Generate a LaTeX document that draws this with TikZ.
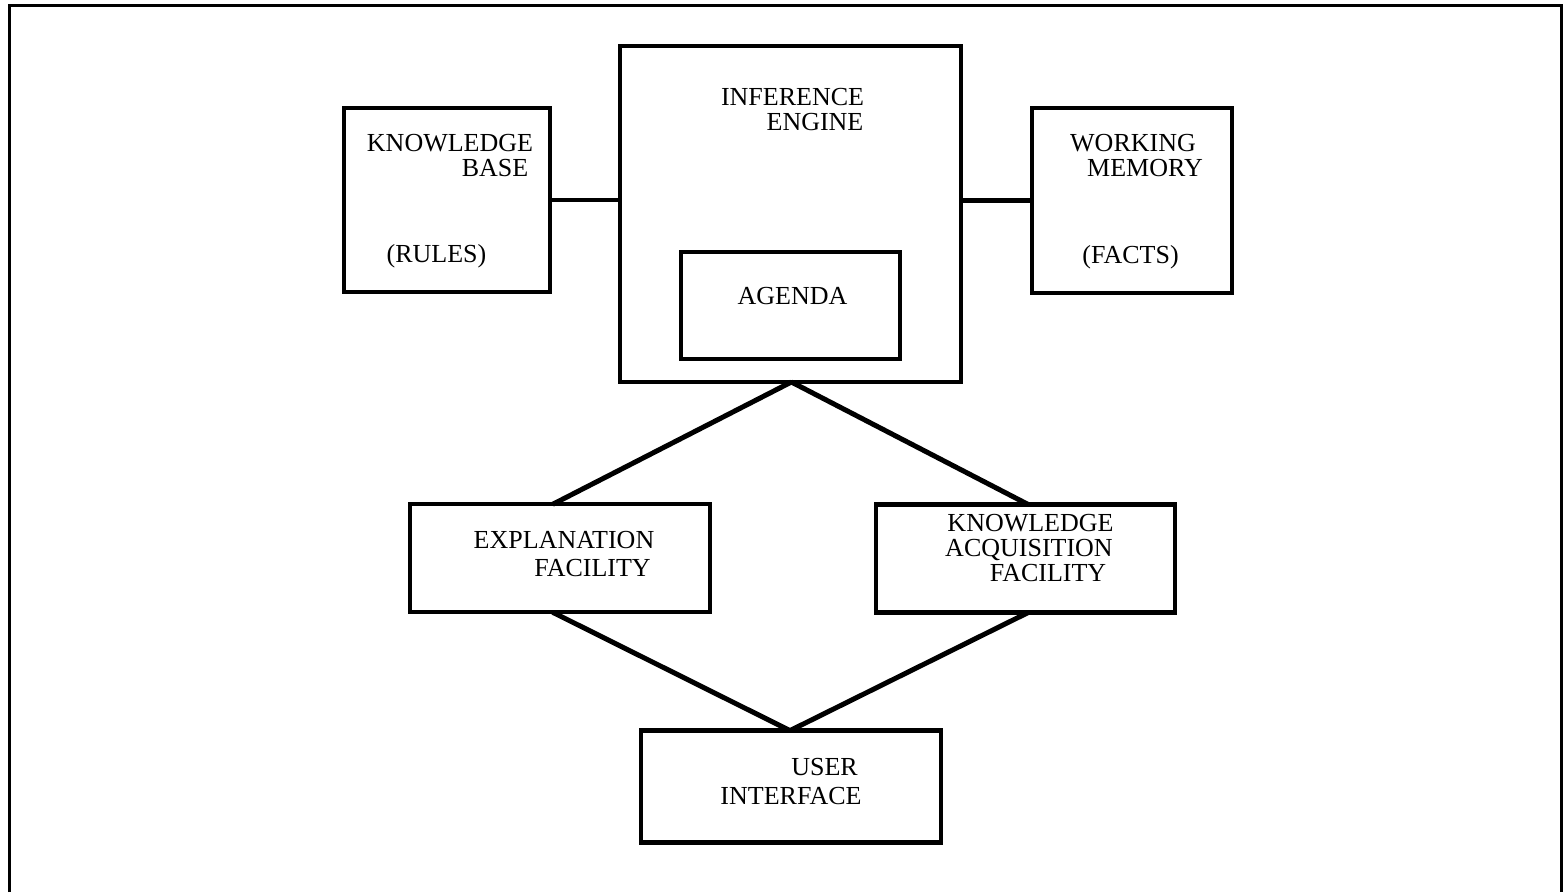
\documentclass[tikz,border=0pt]{standalone}
\usepackage{fontspec}
\setmainfont{Liberation Serif}
\usetikzlibrary{calc}
\begin{document}
\begin{tikzpicture}[x=1pt,y=-1pt,
  block/.style={draw=black,line width=4.3pt,fill=none,inner sep=0pt,outer sep=0pt},
  lbl/.style={anchor=base,inner sep=0pt,outer sep=0pt,font=\fontsize{26}{26}\selectfont},
  link/.style={draw=black,line width=4.3pt},
  slant/.style={draw=black,line width=5pt},
  frame/.style={draw=black,line width=3pt}]
\useasboundingbox (0,0) rectangle (1568,892);

% open border round the page
\draw[frame] (9,892) -- (9,5.5) -- (1561,5.5) -- (1561,892);

% boxes
\node[block,minimum width=206pt,minimum height=184pt] (kb) at (447,199.7) {};
\node[block,minimum width=341pt,minimum height=336pt] (ie) at (790.4,214) {};
\node[block,minimum width=219pt,minimum height=107pt] (ag) at (790.5,305.5) {};
\node[block,minimum width=200pt,minimum height=185pt] (wm) at (1131.7,200.4) {};
\node[block,minimum width=300pt,minimum height=108pt] (ex) at (559.7,558.3) {};
\node[block,minimum width=299pt,minimum height=108pt] (ka) at (1025.2,558.5) {};
\node[block,minimum width=300pt,minimum height=112pt] (ui) at (790.8,786.6) {};

% labels
\node[lbl] (kb1) at (450,151.7) {KNOWLEDGE};
\node[lbl] (kb2) at (495,176) {BASE};
\node[lbl] (kb3) at (436.5,262.5) {(RULES)};
\node[lbl] (ie1) at (792.5,105) {INFERENCE};
\node[lbl] (ie2) at (815,130.7) {ENGINE};
\node[lbl] (ag1) at (792.5,304.5) {AGENDA};
\node[lbl] (wm1) at (1133,151.7) {WORKING};
\node[lbl] (wm2) at (1145,176) {MEMORY};
\node[lbl] (wm3) at (1130.5,263) {(FACTS)};
\node[lbl] (ex1) at (564,548.3) {EXPLANATION};
\node[lbl] (ex2) at (592.5,576.7) {FACILITY};
\node[lbl] (ka1) at (1030.5,531) {KNOWLEDGE};
\node[lbl] (ka2) at (1029,556.7) {ACQUISITION};
\node[lbl] (ka3) at (1048,581) {FACILITY};
\node[lbl] (ui1) at (824.5,775) {USER};
\node[lbl] (ui2) at (791,804) {INTERFACE};

% connectors
\draw[link] (kb.east) -- (kb.east -| ie.west);
\draw[link] (wm.west -| ie.east) -- (wm.west);
\draw[slant] ([xshift=1pt]ie.south) -- ([xshift=-7pt]ex.north);
\draw[slant] ([xshift=1pt]ie.south) -- ([xshift=3pt]ka.north);
\draw[slant] ([xshift=-7pt]ex.south) -- ([xshift=-0.8pt]ui.north);
\draw[slant] ([xshift=3pt]ka.south) -- ([xshift=-0.8pt]ui.north);
\end{tikzpicture}
\end{document}
